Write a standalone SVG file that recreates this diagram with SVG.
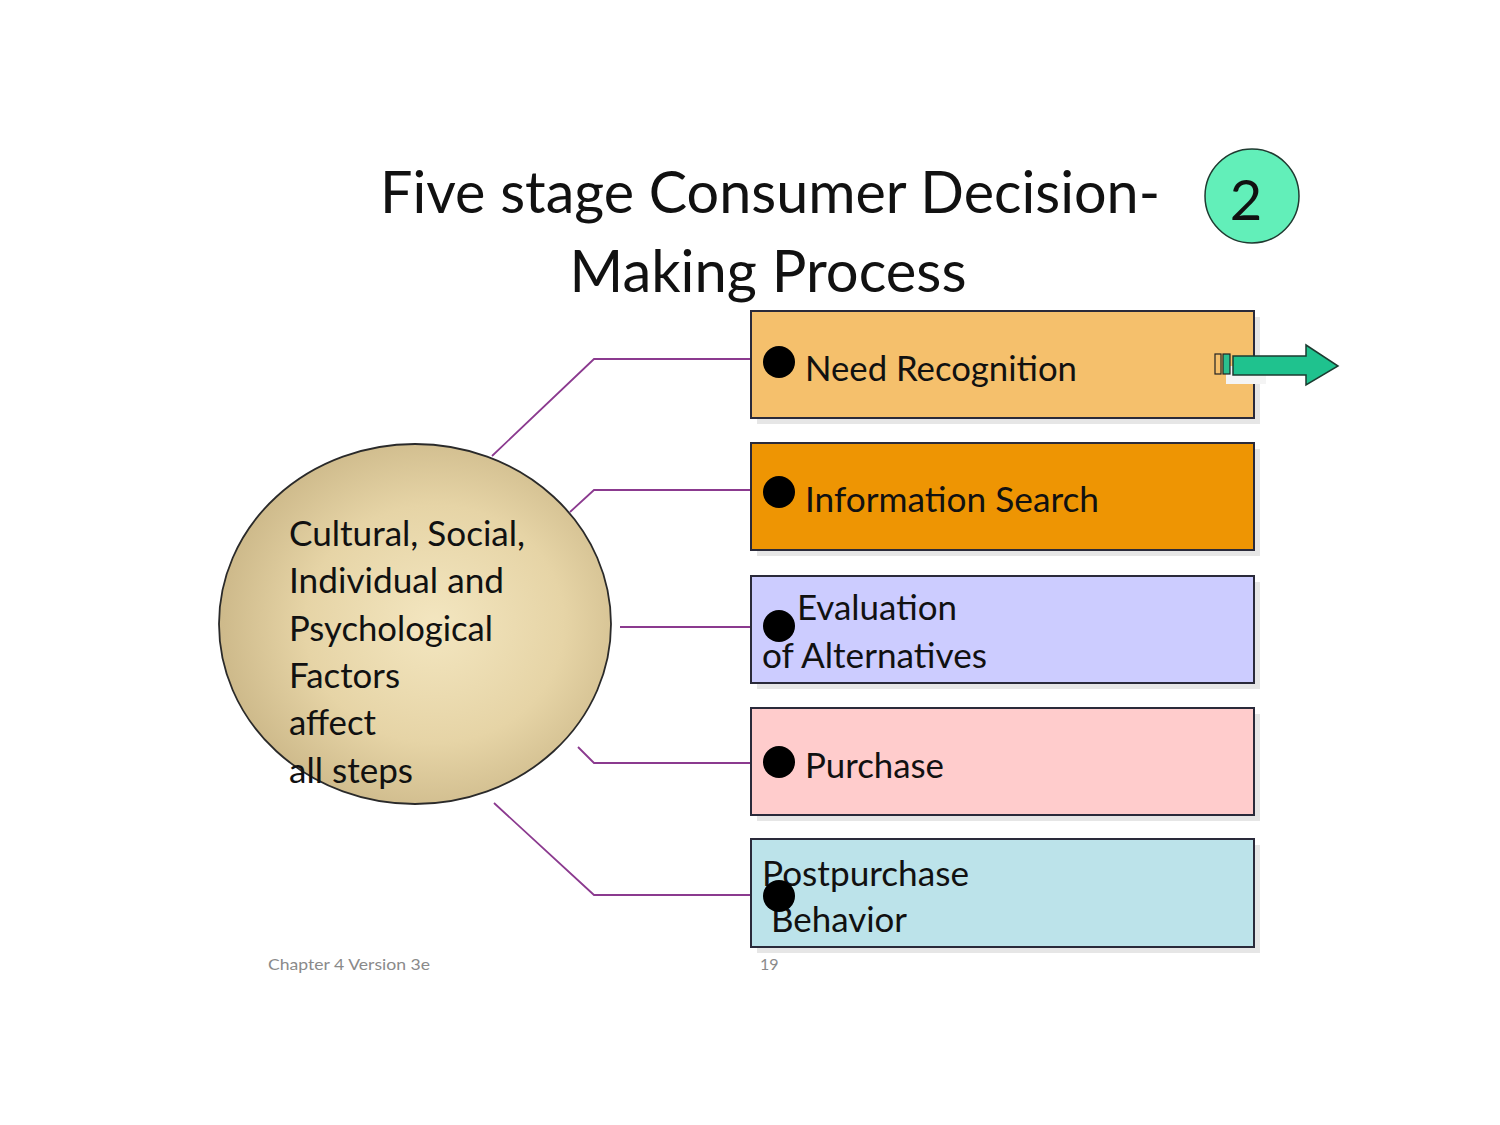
<svg xmlns="http://www.w3.org/2000/svg" width="1500" height="1125" viewBox="0 0 1500 1125">
<style>
text{font-family:Lato,"Open Sans","Noto Sans",sans-serif;fill:#111}
.box{stroke:#2a2a3a;stroke-width:2}
.shadow{fill:#e6e6e6}
.dot{fill:#000}
.conn{fill:none;stroke:#8b3a8f;stroke-width:1.8}
.lbl{font-size:34px}
.foot{font-size:16px;fill:#8a8a8a}
</style>
<defs>
<radialGradient id="eg" cx="0.55" cy="0.5" r="0.55">
<stop offset="0" stop-color="#f3e6c0"/>
<stop offset="0.6" stop-color="#e6d4a6"/>
<stop offset="1" stop-color="#cdb98a"/>
</radialGradient>
</defs>
<rect width="1500" height="1125" fill="#fff"/>
<g id="title">
<text x="770" y="213" font-size="58" text-anchor="middle" textLength="780" lengthAdjust="spacingAndGlyphs">Five stage Consumer Decision-</text>
<text x="768" y="292" font-size="58" text-anchor="middle" textLength="397" lengthAdjust="spacingAndGlyphs">Making Process</text>
</g>
<g id="badge">
<circle cx="1252" cy="196" r="47" fill="#62efb9" stroke="#1f3a30" stroke-width="1.5"/>
<text x="1246" y="220" font-size="56" text-anchor="middle">2</text>
</g>
<g id="connectors">
<polyline class="conn" points="492,456 594,359 779,359"/>
<polyline class="conn" points="570,512 594,490 779,490"/>
<polyline class="conn" points="620,627 779,627"/>
<polyline class="conn" points="578,747 594,763 779,763"/>
<polyline class="conn" points="494,803 594,895 779,895"/>
</g>
<g id="factors">
<ellipse cx="415" cy="624" rx="196" ry="180" fill="url(#eg)" stroke="#2a2a2a" stroke-width="1.8"/>
<text class="lbl" x="289" y="546" textLength="236" lengthAdjust="spacingAndGlyphs">Cultural, Social,</text>
<text class="lbl" x="289" y="593" textLength="215" lengthAdjust="spacingAndGlyphs">Individual and</text>
<text class="lbl" x="289" y="641" textLength="204" lengthAdjust="spacingAndGlyphs">Psychological</text>
<text class="lbl" x="289" y="688" textLength="111" lengthAdjust="spacingAndGlyphs">Factors</text>
<text class="lbl" x="289" y="735" textLength="87" lengthAdjust="spacingAndGlyphs">affect</text>
<text class="lbl" x="289" y="783" textLength="124" lengthAdjust="spacingAndGlyphs">all steps</text>
</g>
<g id="need">
<rect class="shadow" x="757" y="317" width="503" height="107"/>
<rect class="box" x="751" y="311" width="503" height="107" fill="#f5c06c"/>
<circle class="dot" cx="779" cy="362" r="16"/>
<text class="lbl" x="805" y="381" textLength="272" lengthAdjust="spacingAndGlyphs">Need Recognition</text>
</g>
<g id="arrow">
<rect x="1226" y="366" width="40" height="18" fill="#f4f4f4"/>
<rect x="1215" y="354" width="6" height="20" fill="#f5c06c" stroke="#222" stroke-width="1.2"/>
<rect x="1223" y="354" width="7" height="20" fill="#2bbf8e" stroke="#222" stroke-width="1.2"/>
<polygon points="1233,356 1306,356 1306,345 1338,366 1306,385 1306,375 1233,375" fill="#1fc28e" stroke="#1c3b30" stroke-width="1.5"/>
</g>
<g id="search">
<rect class="shadow" x="757" y="449" width="503" height="107"/>
<rect class="box" x="751" y="443" width="503" height="107" fill="#ee9503"/>
<circle class="dot" cx="779" cy="492" r="16"/>
<text class="lbl" x="805" y="512" textLength="294" lengthAdjust="spacingAndGlyphs">Information Search</text>
</g>
<g id="evaluation">
<rect class="shadow" x="757" y="582" width="503" height="107"/>
<rect class="box" x="751" y="576" width="503" height="107" fill="#ccccff"/>
<text class="lbl" x="797" y="620" textLength="160" lengthAdjust="spacingAndGlyphs">Evaluation</text>
<text class="lbl" x="762" y="668" textLength="225" lengthAdjust="spacingAndGlyphs">of Alternatives</text>
<circle class="dot" cx="779" cy="626" r="16"/>
</g>
<g id="purchase">
<rect class="shadow" x="757" y="714" width="503" height="107"/>
<rect class="box" x="751" y="708" width="503" height="107" fill="#ffcccc"/>
<circle class="dot" cx="779" cy="762" r="16"/>
<text class="lbl" x="805" y="778" textLength="139" lengthAdjust="spacingAndGlyphs">Purchase</text>
</g>
<g id="postpurchase">
<rect class="shadow" x="757" y="845" width="503" height="108"/>
<rect class="box" x="751" y="839" width="503" height="108" fill="#bce3ea"/>
<text class="lbl" x="762" y="886" textLength="207" lengthAdjust="spacingAndGlyphs">Postpurchase</text>
<text class="lbl" x="771" y="932" textLength="136" lengthAdjust="spacingAndGlyphs">Behavior</text>
<circle class="dot" cx="779" cy="896" r="16"/>
</g>
<g id="footer">
<text class="foot" x="268" y="970" textLength="162" lengthAdjust="spacingAndGlyphs">Chapter 4 Version 3e</text>
<text class="foot" x="760" y="970">19</text>
</g>
</svg>
